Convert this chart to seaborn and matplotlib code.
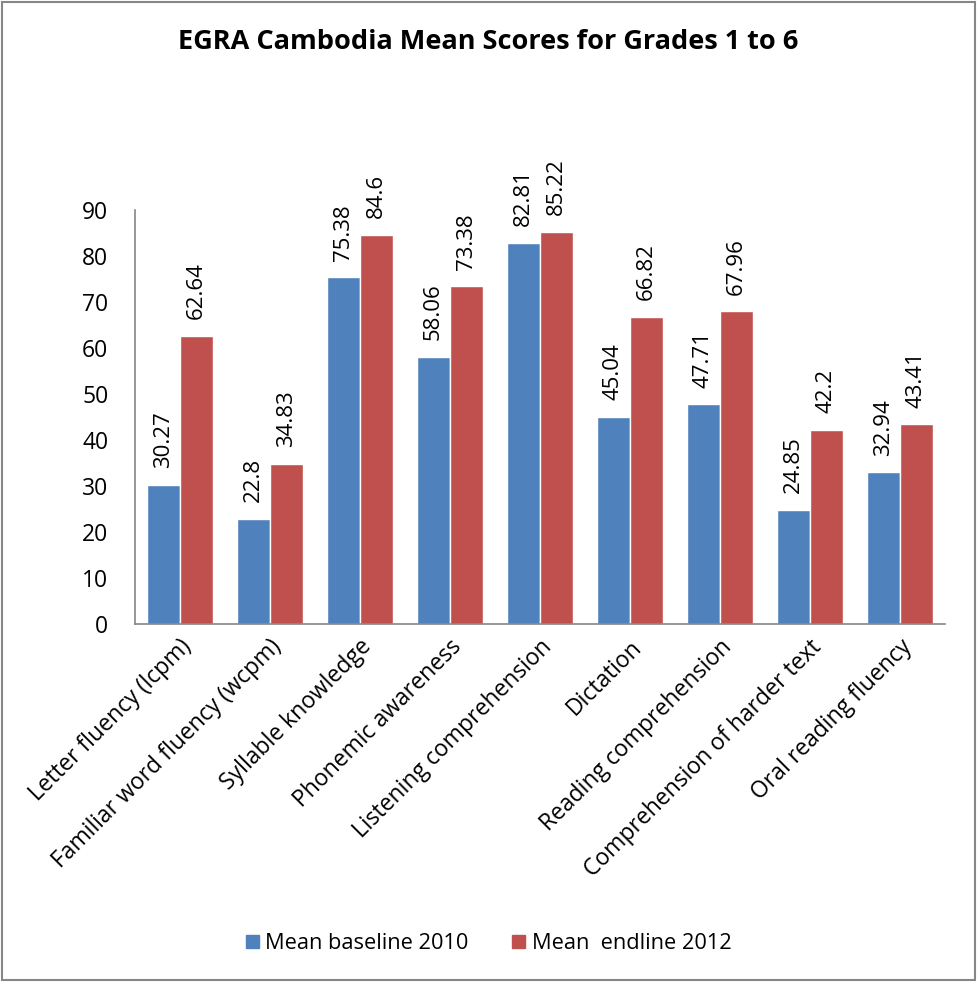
import matplotlib
matplotlib.use("Agg")
import matplotlib.pyplot as plt
import seaborn as sns
import pandas as pd
from matplotlib.patches import Rectangle

categories = ["Letter fluency (lcpm)", "Familiar word fluency (wcpm)", "Syllable knowledge",
              "Phonemic awareness", "Listening comprehension", "Dictation",
              "Reading comprehension", "Comprehension of harder text", "Oral reading fluency"]
baseline = [30.27, 22.8, 75.38, 58.06, 82.81, 45.04, 47.71, 24.85, 32.94]
endline = [62.64, 34.83, 84.6, 73.38, 85.22, 66.82, 67.96, 42.2, 43.41]
series = ["Mean baseline 2010", "Mean  endline 2012"]
colors = ["#4F81BD", "#C0504D"]
yticks = [0, 10, 20, 30, 40, 50, 60, 70, 80, 90]

df = pd.DataFrame({
    "cat": categories * 2,
    "val": baseline + endline,
    "series": [series[0]] * len(categories) + [series[1]] * len(categories),
})

sns.set_theme(style="white")
plt.rcParams["font.family"] = ["Open Sans", "DejaVu Sans"]
plt.rcParams["text.color"] = "black"
plt.rcParams["xtick.color"] = "black"
plt.rcParams["ytick.color"] = "black"

fig = plt.figure(figsize=(9.77, 9.82), dpi=100)
ax = fig.add_axes([0.138, 0.3646, 0.829, 0.4216])
sns.barplot(data=df, x="cat", y="val", hue="series", palette=colors, ax=ax,
            width=0.73, saturation=1, legend=False)

for cont in ax.containers:
    ax.bar_label(cont, labels=[f"{v:g}" for v in cont.datavalues], rotation=90,
                 padding=12, fontsize=16, color="black")

ax.set_ylim(0, 90)
ax.set_xlim(-0.5, len(categories) - 0.5)
ax.set_yticks(yticks)
ax.tick_params(axis="y", labelsize=16.5, length=0, pad=19, labelcolor="black")
ax.tick_params(axis="x", labelsize=16.5, length=0, pad=8, labelcolor="black")
ax.set_xticks(range(len(categories)))
ax.set_xticklabels(categories, rotation=45, ha="right", rotation_mode="anchor")
ax.set_xlabel("")
ax.set_ylabel("")
for s in ["top", "right"]:
    ax.spines[s].set_visible(False)
for s in ["left", "bottom"]:
    ax.spines[s].set_color("#868686")
    ax.spines[s].set_linewidth(1.2)

fig.suptitle("EGRA Cambodia Mean Scores for Grades 1 to 6", x=0.5, y=0.97,
             fontsize=19.5, fontweight="bold", color="black")

handles = [Rectangle((0, 0), 1, 1, color=c) for c in colors]
fig.legend(handles, series, loc="center", bbox_to_anchor=(0.5, 0.039), ncol=2,
           frameon=False, fontsize=15.7, handlelength=0.6, handleheight=0.6,
           handletextpad=0.3, columnspacing=2.0, labelcolor="black")

fig.add_artist(Rectangle((0.002, 0.002), 0.996, 0.996, transform=fig.transFigure,
                         fill=False, edgecolor="#868686", linewidth=1.5))

fig.savefig("out.png", dpi=100)
